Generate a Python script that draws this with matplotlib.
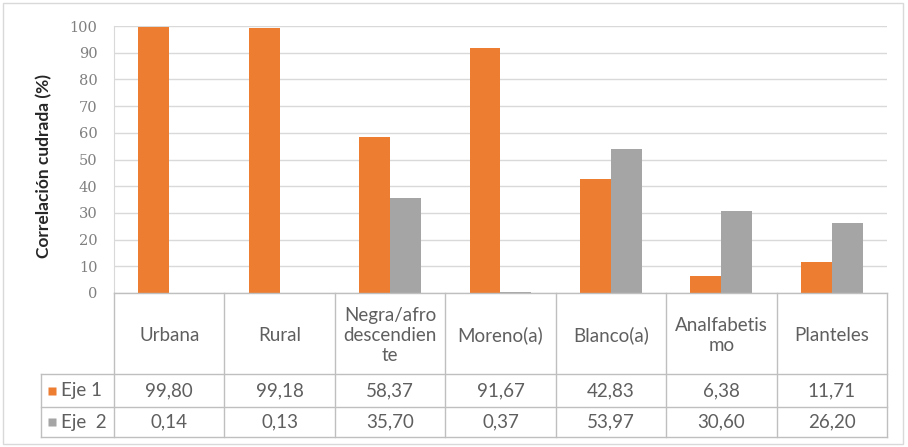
import matplotlib
matplotlib.use('Agg')
import matplotlib.pyplot as plt
from matplotlib.patches import Rectangle
import numpy as np

# datos
categorias = ['Urbana', 'Rural', 'Negra/afro\ndescendien\nte', 'Moreno(a)',
              'Blanco(a)', 'Analfabetis\nmo', 'Planteles']
eje1 = [99.80, 99.18, 58.37, 91.67, 42.83, 6.38, 11.71]
eje2 = [0.14, 0.13, 35.70, 0.37, 53.97, 30.60, 26.20]
series = ['Eje 1', 'Eje  2']
colores = ['#ED7D31', '#A5A5A5']
yticks = list(range(0, 101, 10))
ylabel = 'Correlación cudrada (%)'

W, H = 908, 447
fig = plt.figure(figsize=(W / 100, H / 100), dpi=100)


def fx(px):
    return px / W


def fy(py):
    return 1 - py / H


# bordes en pixeles
x0, x1 = 114, 887
y_top, y_axis, y_fin = 26, 293, 437
x_leyenda = 41
filas = [293, 374, 407, 437]
gris_linea = '#BFBFBF'
gris_texto = '#5F5F5F'
fuente = 'Lato'
tam = 13.5

ax = fig.add_axes([fx(x0), fy(y_axis), fx(x1) - fx(x0), fy(y_top) - fy(y_axis)])
x = np.arange(len(categorias))
w = 0.28
ax.bar(x - w / 2, eje1, w, color=colores[0], zorder=3)
ax.bar(x + w / 2, eje2, w, color=colores[1], zorder=3)
ax.set_xlim(-0.5, len(categorias) - 0.5)
ax.set_ylim(0, 100)
ax.set_yticks(yticks)
ax.set_yticklabels([str(t) for t in yticks], fontfamily='DejaVu Serif')
ax.set_xticks([])
ax.yaxis.grid(True, color='#D9D9D9', lw=1, zorder=0)
for s in ['top', 'right', 'bottom']:
    ax.spines[s].set_visible(False)
ax.spines['left'].set_color('#D9D9D9')
ax.tick_params(axis='y', length=0, pad=12, labelsize=10.5, labelcolor='#7F7F7F')

fig.text(fx(44), fy(166), ylabel, rotation=90, ha='center', va='center',
         fontsize=12.5, fontweight='bold', color='#262626', family=fuente)

# tabla de datos
cw = (x1 - x0) / len(categorias)
xl = -0.5 - (x0 - x_leyenda) / cw
at = fig.add_axes([fx(x_leyenda), fy(y_fin), fx(x1) - fx(x_leyenda), fy(y_axis) - fy(y_fin)])
at.set_xlim(xl, len(categorias) - 0.5)
at.set_ylim(y_fin, y_axis)
at.axis('off')

at.plot([-0.5, len(categorias) - 0.5], [filas[0], filas[0]], color=gris_linea, lw=1, clip_on=False)
for yy in filas[1:]:
    at.plot([xl, len(categorias) - 0.5], [yy, yy], color=gris_linea, lw=1, clip_on=False)
for k in range(len(categorias) + 1):
    at.plot([k - 0.5, k - 0.5], [filas[0], filas[-1]], color=gris_linea, lw=1, clip_on=False)
at.plot([xl, xl], [filas[1], filas[-1]], color=gris_linea, lw=1, clip_on=False)

for i, cat in enumerate(categorias):
    at.text(i, (filas[0] + filas[1]) / 2 + 2, cat, ha='center', va='center',
            fontsize=tam, color=gris_texto, family=fuente, linespacing=1.2)

for r, (nombre, vals, col) in enumerate(zip(series, [eje1, eje2], colores)):
    yc = (filas[r + 1] + filas[r + 2]) / 2
    at.plot(xl + 11 / cw, yc, marker='s', ms=6, color=col, mec='none', clip_on=False)
    at.text(xl + 20 / cw, yc, nombre, ha='left', va='center', fontsize=tam,
            color=gris_texto, family=fuente)
    for i, v in enumerate(vals):
        at.text(i, yc, f'{v:.2f}'.replace('.', ','), ha='center', va='center',
                fontsize=tam, color=gris_texto, family=fuente)

fig.patches.append(Rectangle((fx(3), fy(444)), fx(903) - fx(3), fy(3) - fy(444),
                             transform=fig.transFigure, fill=False,
                             ec='#D9D9D9', lw=1))

fig.savefig('out.png', dpi=100)
